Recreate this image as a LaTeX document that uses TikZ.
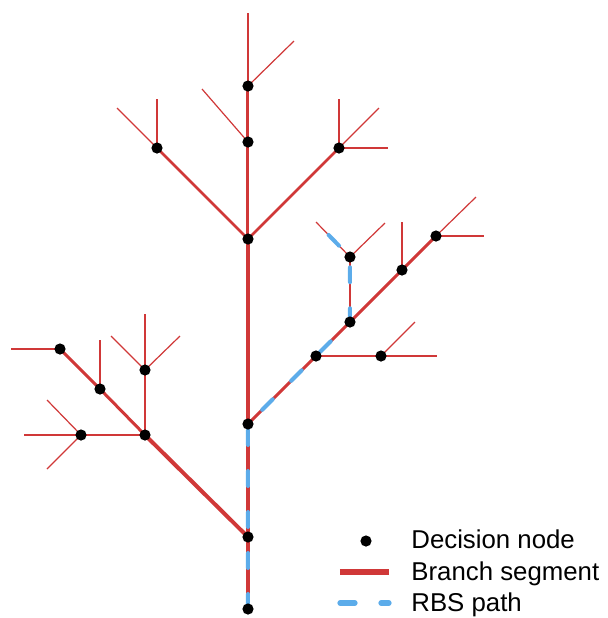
\documentclass[tikz,border=0pt]{standalone}
\usepackage{fontspec}
\setmainfont{Liberation Sans}
\usetikzlibrary{backgrounds}
\definecolor{branchRed}{RGB}{208, 56, 56}
\definecolor{pathBlue}{RGB}{92, 172, 234}

\begin{document}
\begin{tikzpicture}[
        x=0.5pt, y=-0.5pt,
        dnode/.style={circle, fill=black, inner sep=0pt, minimum size=5.6pt},
        seg/.style={branchRed, line cap=round},
        twig/.style={branchRed, line width=0.6pt},
        rbs/.style={pathBlue, line width=2pt, line cap=round, dash pattern=on 7.5pt off 13pt},
        label/.style={anchor=base west, inner sep=0pt, font=\fontsize{12.9}{15}\selectfont}
    ]
        \useasboundingbox (0,0) rectangle (608,618);

        % Trunk
        \node[dnode] (r0) at (248,609) {};
        \node[dnode] (t1) at (248,537) {};
        \node[dnode] (t2) at (248,424) {};
        \node[dnode] (t3) at (248,239) {};
        \node[dnode] (t4) at (248,142) {};
        \node[dnode] (t5) at (248,86) {};
        \node[dnode] (u1) at (157,148) {};
        \node[dnode] (u2) at (339,148) {};

        % Left subtree
        \node[dnode] (l1) at (145,435) {};
        \node[dnode] (l2) at (81,435) {};
        \node[dnode] (l3) at (145,370) {};
        \node[dnode] (l4) at (100,389) {};
        \node[dnode] (l5) at (60,349) {};

        % Right subtree
        \node[dnode] (s1) at (316,356) {};
        \node[dnode] (s2) at (381,356) {};
        \node[dnode] (s3) at (350,322) {};
        \node[dnode] (s4) at (402,270) {};
        \node[dnode] (s5) at (436,236) {};
        \node[dnode] (s6) at (350,257) {};

        % Twig ends
        \coordinate (e1) at (248,13);
        \coordinate (e2) at (294,41);
        \coordinate (e3) at (202,89);
        \coordinate (e4) at (157,99);
        \coordinate (e5) at (117,108);
        \coordinate (e6) at (339,99);
        \coordinate (e7) at (379,108);
        \coordinate (e8) at (388,148);
        \coordinate (e9) at (476,197);
        \coordinate (e10) at (484,236);
        \coordinate (e11) at (402,222);
        \coordinate (e12) at (316,222);
        \coordinate (e13) at (385,223);
        \coordinate (e14) at (415,322);
        \coordinate (e15) at (437,356);
        \coordinate (e16) at (145,314);
        \coordinate (e17) at (111,336);
        \coordinate (e18) at (180,336);
        \coordinate (e19) at (100,340);
        \coordinate (e20) at (11,349);
        \coordinate (e21) at (24,435);
        \coordinate (e22) at (47,400);
        \coordinate (e23) at (47,469);

        \begin{scope}[on background layer]
            % Branch segments
            \draw[seg, line width=2.25pt] (r0.center) -- (t1.center) -- (t2.center) -- (t3.center);
            \draw[seg, line width=1.5pt] (t3.center) -- (t4.center) -- (t5.center);
            \draw[seg, line width=1.35pt] (t3.center) -- (u1.center);
            \draw[seg, line width=1.35pt] (t3.center) -- (u2.center);
            \draw[seg, line width=2pt] (t1.center) -- (l1.center);
            \draw[seg, line width=1.35pt] (l1.center) -- (l2.center);
            \draw[seg, line width=1.35pt] (l1.center) -- (l3.center);
            \draw[seg, line width=1.5pt] (l1.center) -- (l4.center) -- (l5.center);
            \draw[seg, line width=1.5pt] (t2.center) -- (s1.center) -- (s3.center) -- (s4.center) -- (s5.center);
            \draw[seg, line width=1.15pt] (s1.center) -- (s2.center);
            \draw[seg, line width=1.15pt] (s3.center) -- (s6.center);

            % Twigs
            \draw[twig] (t5.center) -- (e1);
            \draw[twig] (t5.center) -- (e2);
            \draw[twig] (t4.center) -- (e3);
            \draw[twig] (u1.center) -- (e4);
            \draw[twig] (u1.center) -- (e5);
            \draw[twig] (u2.center) -- (e6);
            \draw[twig] (u2.center) -- (e7);
            \draw[twig] (u2.center) -- (e8);
            \draw[twig] (s5.center) -- (e9);
            \draw[twig] (s5.center) -- (e10);
            \draw[twig] (s4.center) -- (e11);
            \draw[twig] (s6.center) -- (e12);
            \draw[twig] (s6.center) -- (e13);
            \draw[twig] (s2.center) -- (e14);
            \draw[twig] (s2.center) -- (e15);
            \draw[twig] (l3.center) -- (e16);
            \draw[twig] (l3.center) -- (e17);
            \draw[twig] (l3.center) -- (e18);
            \draw[twig] (l4.center) -- (e19);
            \draw[twig] (l5.center) -- (e20);
            \draw[twig] (l2.center) -- (e21);
            \draw[twig] (l2.center) -- (e22);
            \draw[twig] (l2.center) -- (e23);

            % RBS path
            \draw[rbs] (r0.center) -- (t1.center) -- (t2.center) -- (s1.center) -- (s3.center) -- (s6.center) -- (e12);
        \end{scope}

        % Legend
        \node[dnode] (kdot) at (366,541) {};
        \coordinate (ka) at (340,572);
        \coordinate (kb) at (389,572);
        \coordinate (kc) at (340,603);
        \coordinate (kd) at (389,603);
        \draw[branchRed, line width=2.6pt] (ka) -- (kb);
        \draw[rbs, line width=2.6pt] (kc) -- (kd);
        \node[label] (kt1) at (411,548) {Decision node};
        \node[label] (kt2) at (411,580) {Branch segment};
        \node[label] (kt3) at (411,611) {RBS path};
    \end{tikzpicture}
\end{document}
